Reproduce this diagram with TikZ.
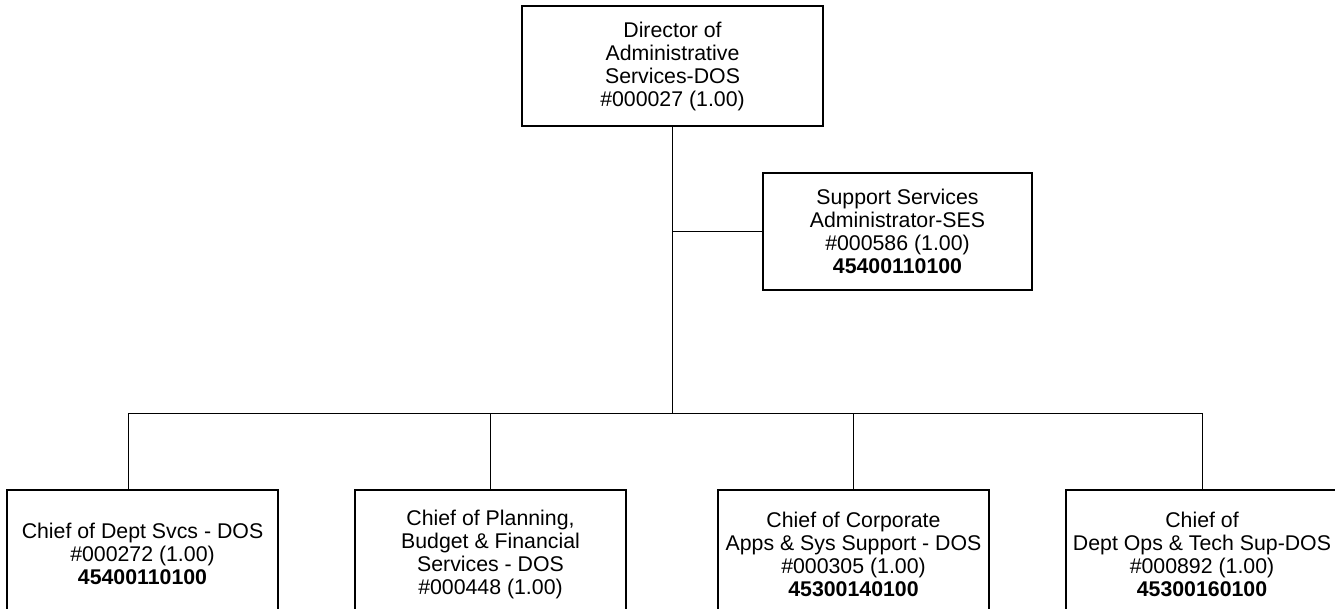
\documentclass[tikz,border=0pt]{standalone}
\usepackage{fontspec}
\setmainfont{Liberation Sans}
\begin{document}
\begin{tikzpicture}[x=1pt,y=-1pt,
  every node/.style={font=\fontsize{21.3}{23}\selectfont},
  posbox/.style={draw=black,line width=1.3pt,align=center,inner sep=0pt,
    minimum height=#1},
  link/.style={draw=black,line width=1pt}]
\useasboundingbox (0,0) rectangle (1335,609);
\fill[white] (0,0) rectangle (1335,609);

% director
\node[posbox=120pt,minimum width=301pt] (top) at (672.5,66)
  {Director of\\Administrative\\Services-DOS\\\#000027 (1.00)};

% staff position beside the main line
\node[posbox=117pt,minimum width=269pt] (sup) at (897.5,231.5)
  {Support Services\\Administrator-SES\\\#000586 (1.00)\\\textbf{45400110100}};

% direct reports
\node[posbox=128pt,minimum width=271pt] (b1) at (142.5,554)
  {Chief of Dept Svcs - DOS\\\#000272 (1.00)\\\textbf{45400110100}};
\node[posbox=128pt,minimum width=271pt] (b2) at (490.5,554)
  {Chief of Planning,\\Budget \& Financial\\Services - DOS\\\#000448 (1.00)};
\node[posbox=128pt,minimum width=271pt] (b3) at (853.5,554)
  {Chief of Corporate\\Apps \& Sys Support - DOS\\\#000305 (1.00)\\\textbf{45300140100}};
\node[posbox=128pt,minimum width=272pt] (b4) at (1202,554)
  {Chief of\\Dept Ops \& Tech Sup-DOS\\\#000892 (1.00)\\\textbf{45300160100}};

% connectors
\coordinate (bus) at (672.5,413);
\coordinate (b1drop) at (128,490);
\draw[link] (top.south) -- (bus);
\draw[link] (sup.west) -- (sup.west -| top.south);
\draw[link] (b1drop) |- (bus);
\draw[link] (b4.north) |- (bus);
\draw[link] (b2.north) -- (b2.north |- bus);
\draw[link] (b3.north) -- (b3.north |- bus);
\end{tikzpicture}
\end{document}
